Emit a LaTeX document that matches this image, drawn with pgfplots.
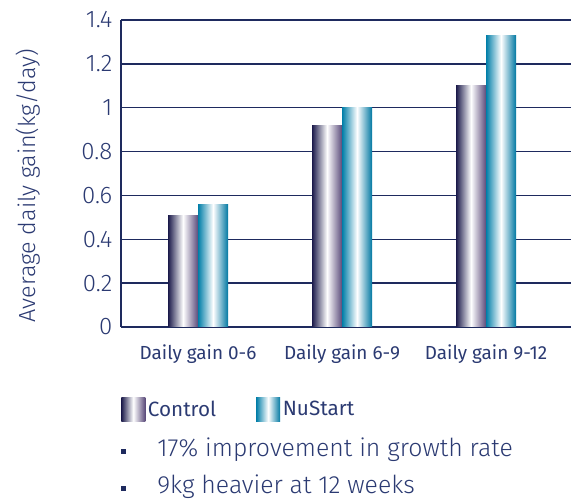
\documentclass[border=0pt]{standalone}
\usepackage{fontspec}
\setmainfont{Fira Sans}
\newfontfamily\light{Fira Sans Light}
\usepackage{pgfplots}
\pgfplotsset{compat=1.18}
\definecolor{navy}{HTML}{2B3A72}
\definecolor{gridc}{HTML}{1E2A5E}
\definecolor{ctrlL}{HTML}{1B1A4A}
\definecolor{ctrlR}{HTML}{5A4A7A}
\definecolor{nuL}{HTML}{007EA8}
\definecolor{nuR}{HTML}{0078A2}
\pgfplotsset{
  ctrl/.style={draw=none, left color=ctrlL, right color=ctrlR, middle color=white},
  nu/.style={draw=none, left color=nuL, right color=nuR, middle color=white},
  cbar/.style={ybar, bar width=22.5pt, bar shift=-11.25pt, forget plot, ctrl},
  nbar/.style={ybar, bar width=22.5pt, bar shift=11.25pt, forget plot, nu},
}
\begin{document}
\begin{tikzpicture}
\useasboundingbox (0,0) rectangle (428.25pt,374.25pt);
\begin{axis}[
  at={(90.75pt,129pt)}, anchor=south west,
  scale only axis, width=337.5pt, height=230.25pt,
  xmin=-0.535, xmax=2.59, ymin=0, ymax=1.4,
  ytick={0,0.2,0.4,0.6,0.8,1,1.2,1.4},
  xtick={0,1,2},
  xticklabels={Daily gain 0-6, Daily gain 6-9, Daily gain 9-12},
  axis x line*=bottom, axis y line*=left,
  axis line style={-, gridc, line width=1.5pt},
  ymajorgrids, major grid style={gridc, line width=1.1pt},
  major tick length=0pt,
  tick label style={navy},
  /pgf/number format/assume math mode=true,
  yticklabel style={font=\light\fontsize{18}{18}\selectfont, xshift=-3pt},
  xticklabel style={font=\fontsize{14.2}{15}\selectfont, yshift=-10pt},
  ylabel={Average daily gain(kg/day)},
  ylabel style={at={(rel axis cs:-0.206,0.46)}, anchor=center, font=\light\fontsize{17.5}{18}\selectfont, text=navy},
  legend style={at={(rel axis cs:0,-0.228)}, anchor=north west, draw=none, fill=none,
    legend columns=2, font=\fontsize{15.5}{16}\selectfont, text=navy, inner sep=0pt,
    /tikz/every even column/.append style={column sep=28pt}},
  legend image code/.code={\path[#1,draw=none] (0pt,-9pt) rectangle (18pt,9pt);},
]
\addplot[cbar] coordinates {(0,0.51)};
\addplot[cbar] coordinates {(1,0.92)};
\addplot[cbar] coordinates {(2,1.1)};
\addplot[nbar] coordinates {(0,0.56)};
\addplot[nbar] coordinates {(1,1.0)};
\addplot[nbar] coordinates {(2,1.33)};
\addlegendimage{ctrl}
\addlegendentry{Control}
\addlegendimage{nu}
\addlegendentry{NuStart}
\end{axis}
\fill[gridc] (90.75pt,33.75pt) rectangle (94.5pt,37.5pt);
\fill[gridc] (90.75pt,6pt) rectangle (94.5pt,9.75pt);
\node[anchor=base west, inner sep=0pt, text=navy, font=\light\fontsize{18.6}{19}\selectfont] at (117.75pt,31.5pt) {17\% improvement in growth rate};
\node[anchor=base west, inner sep=0pt, text=navy, font=\light\fontsize{18.6}{19}\selectfont] at (117.75pt,3.75pt) {9kg heavier at 12 weeks};
\end{tikzpicture}
\end{document}
